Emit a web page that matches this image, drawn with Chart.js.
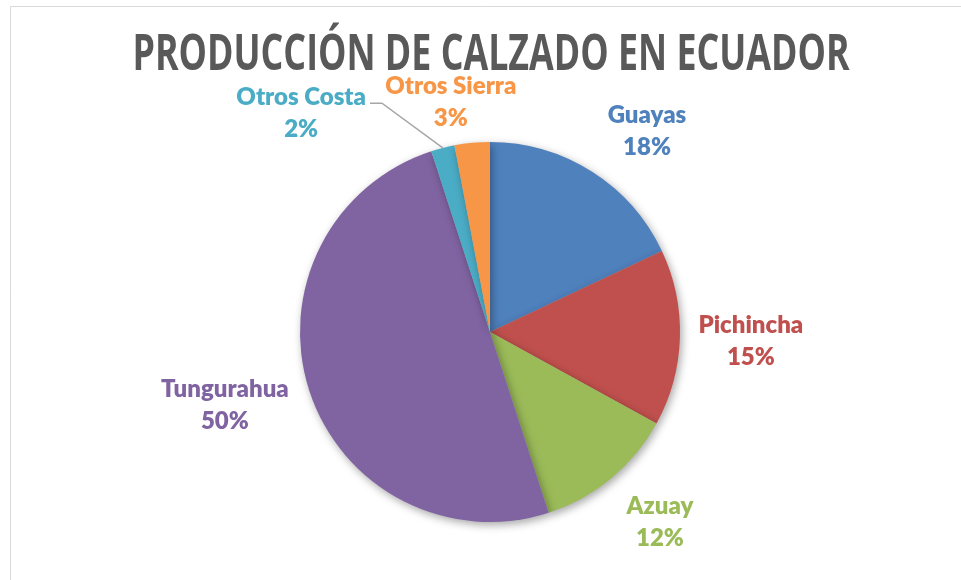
<!DOCTYPE html>
<html>
<head>
<meta charset="utf-8">
<script src="https://cdn.jsdelivr.net/npm/chart.js@4"></script>
<style>
  html, body { margin:0; padding:0; background:#fff; }
  #wrap { width:961px; height:580px; position:relative; }
</style>
</head>
<body>
<div id="wrap"><canvas id="pie"></canvas></div>
<script>
// data
const provincias = ['Guayas', 'Pichincha', 'Azuay', 'Tungurahua', 'Otros Costa', 'Otros Sierra'];
const porcentajes = [18, 15, 12, 50, 2, 3];
const colores = ['#4F81BD', '#C0504D', '#9BBB59', '#8064A2', '#4BACC6', '#F79646'];

// label placement: [angle shift in deg, distance from centre in px]
const labelPos = [[5.6, 255], [0.2, 261], [-2.2, 255], [2.6, 275], [-26.4, 289], [-4.3, 233]];

// frame + title
const framePlugin = {
  id: 'frame',
  beforeDraw(chart) {
    const ctx = chart.ctx;
    ctx.save();
    ctx.strokeStyle = '#d9d9d9';
    ctx.lineWidth = 1;
    ctx.beginPath();
    ctx.moveTo(10.5, 580); ctx.lineTo(10.5, 6.5); ctx.lineTo(961, 6.5);
    ctx.stroke();

    const title = 'PRODUCCIÓN DE CALZADO EN ECUADOR';
    ctx.font = 'bold 50px "Open Sans"';
    ctx.fillStyle = '#595959';
    ctx.textBaseline = 'alphabetic';
    ctx.textAlign = 'center';
    const w = ctx.measureText(title).width;
    ctx.translate(491, 70);
    ctx.scale(717 / w, 1);
    ctx.fillText(title, 0, 0);
    ctx.restore();
  }
};

// soft shadow under the pie
const shadowPlugin = {
  id: 'pieShadow',
  beforeDatasetDraw(chart) {
    const ctx = chart.ctx;
    ctx.save();
    ctx.shadowColor = 'rgba(0,0,0,0.35)';
    ctx.shadowBlur = 9;
    ctx.shadowOffsetX = 2;
    ctx.shadowOffsetY = 3;
  },
  afterDatasetDraw(chart) {
    chart.ctx.restore();
  }
};

// outside labels
const labelPlugin = {
  id: 'outLabels',
  afterDatasetsDraw(chart) {
    const ctx = chart.ctx;
    const meta = chart.getDatasetMeta(0);
    ctx.save();
    ctx.font = '800 24px Lato';
    ctx.textAlign = 'center';
    ctx.textBaseline = 'middle';
    meta.data.forEach((arc, i) => {
      const mid = (arc.startAngle + arc.endAngle) / 2 + labelPos[i][0] * Math.PI / 180;
      const d = labelPos[i][1];
      const x = arc.x + Math.cos(mid) * d;
      const y = arc.y + Math.sin(mid) * d;
      ctx.fillStyle = colores[i];
      ctx.fillText(provincias[i], x, y - 16);
      ctx.fillText(porcentajes[i] + '%', x, y + 16);

      if (provincias[i] === 'Otros Costa') {
        const half = ctx.measureText(provincias[i]).width / 2;
        const a = (arc.startAngle + arc.endAngle) / 2;
        const ex = arc.x + Math.cos(a) * arc.outerRadius;
        const ey = arc.y + Math.sin(a) * arc.outerRadius;
        ctx.strokeStyle = '#a6a6a6';
        ctx.lineWidth = 1.5;
        ctx.beginPath();
        ctx.moveTo(x + half + 4, y - 10);
        ctx.lineTo(x + half + 16, y - 10);
        ctx.lineTo(ex, ey);
        ctx.stroke();
      }
    });
    ctx.restore();
  }
};

new Chart(document.getElementById('pie'), {
  type: 'pie',
  data: {
    labels: provincias,
    datasets: [{
      data: porcentajes,
      backgroundColor: colores,
      borderWidth: 0
    }]
  },
  options: {
    responsive: true,
    maintainAspectRatio: false,
    animation: false,
    layout: { padding: { top: 142, bottom: 58, left: 300, right: 281 } },
    plugins: {
      legend: { display: false },
      tooltip: { enabled: false }
    }
  },
  plugins: [framePlugin, shadowPlugin, labelPlugin]
});
</script>
</body>
</html>
